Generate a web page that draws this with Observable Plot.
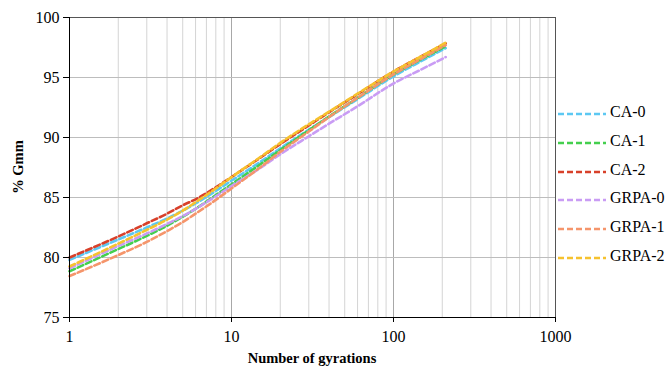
<!DOCTYPE html>
<html>
<head>
<meta charset="utf-8">
<script src="https://cdn.jsdelivr.net/npm/d3@7"></script>
<script src="https://cdn.jsdelivr.net/npm/@observablehq/plot@0.6"></script>
<style>
  body { margin: 0; background: #fff; }
  #wrap { position: relative; width: 671px; height: 371px; font-family: "Liberation Serif", "Times New Roman", "DejaVu Serif", serif; color: #000; }
  .ttl { position: absolute; font-weight: bold; font-size: 14.5px; white-space: nowrap; font-family: "Liberation Serif", "Times New Roman", "DejaVu Serif", serif; }
  #legend { position: absolute; left: 556px; top: 103px; }
  .li { position: absolute; left: 0; height: 20px; width: 115px; font-size: 16px; font-family: "Liberation Serif", "Times New Roman", "DejaVu Serif", serif; }
  .li svg { position: absolute; left: 0; top: 5px; }
  .li span { position: absolute; left: 54px; top: 0; }
</style>
</head>
<body>
<div id="wrap"></div>
<script>
// Gyration counts at which values were read
const gyrations = [1, 2, 3, 4, 5, 6, 8, 10, 15, 20, 30, 40, 60, 100, 150, 210];
// %Gmm per series
const ca0   = [79.8, 81.5, 82.5, 83.25, 83.9, 84.5, 85.55, 86.4, 87.95, 89.1, 90.65, 91.7, 93.2, 95.1, 96.4, 97.45];
const ca1   = [78.85, 80.7, 81.8, 82.65, 83.4, 84.05, 85.2, 86.1, 87.75, 88.95, 90.6, 91.75, 93.3, 95.25, 96.55, 97.6];
const ca2   = [80.0, 81.75, 82.85, 83.65, 84.35, 84.85, 85.85, 86.7, 88.3, 89.45, 91.0, 92.1, 93.6, 95.5, 96.8, 97.85];
const grpa0 = [79.1, 80.95, 82.0, 82.8, 83.45, 84.05, 85.1, 85.95, 87.45, 88.6, 90.1, 91.15, 92.6, 94.5, 95.7, 96.7];
const grpa1 = [78.45, 80.2, 81.3, 82.2, 82.95, 83.65, 84.8, 85.75, 87.5, 88.8, 90.5, 91.7, 93.3, 95.25, 96.6, 97.7];
const grpa2 = [79.25, 81.15, 82.3, 83.15, 83.9, 84.6, 85.75, 86.7, 88.35, 89.55, 91.1, 92.15, 93.65, 95.5, 96.8, 97.9];

const seriesNames = ["CA-0", "CA-1", "CA-2", "GRPA-0", "GRPA-1", "GRPA-2"];
const seriesValues = [ca0, ca1, ca2, grpa0, grpa1, grpa2];
const seriesColors = ["#5cc8f2", "#44cf4e", "#d8402a", "#c99cf4", "#f5956b", "#f6c22f"];

const xTicks = [1, 10, 100, 1000];
const xMinor = [2,3,4,5,6,7,8,9,20,30,40,50,60,70,80,90,200,300,400,500,600,700,800,900];
const xMajorGrid = [10, 100];
const yTicks = [75, 80, 85, 90, 95, 100];
const yGrid = [80, 85, 90, 95];

const data = [];
seriesNames.forEach((name, i) => {
  gyrations.forEach((n, j) => data.push({series: name, n, v: seriesValues[i][j]}));
});

const FONT = '"Liberation Serif", "Times New Roman", "DejaVu Serif", serif';

const chart = Plot.plot({
  width: 671,
  height: 371,
  marginLeft: 69,
  marginRight: 116,
  marginTop: 17,
  marginBottom: 54,
  style: {fontFamily: FONT, fontSize: "16px", color: "#000", background: "#fff"},
  x: {type: "log", domain: [1, 1000]},
  y: {domain: [75, 100]},
  color: {domain: seriesNames, range: seriesColors},
  marks: [
    Plot.ruleX(xMinor, {stroke: "#d4d4d4", strokeWidth: 1}),
    Plot.ruleX(xMajorGrid, {stroke: "#a8a8a8", strokeWidth: 1}),
    Plot.ruleY(yGrid, {stroke: "#bdbdbd", strokeWidth: 1}),
    Plot.ruleY([100], {stroke: "#555", strokeWidth: 1}),
    Plot.ruleX([1000], {stroke: "#555", strokeWidth: 1}),
    Plot.line(data, {x: "n", y: "v", z: "series", stroke: "series", strokeWidth: 2.6, strokeDasharray: "6,3", curve: "monotone-x"}),
    Plot.ruleX([1], {stroke: "#000", strokeWidth: 1}),
    Plot.ruleY([75], {stroke: "#000", strokeWidth: 1}),
    Plot.axisY({ticks: yTicks, tickSize: 6, tickPadding: 4, label: null, tickFormat: d => String(d), fontFamily: FONT}),
    Plot.axisX({ticks: xTicks, tickSize: 5, tickPadding: 8, label: null, tickFormat: d => String(d), fontFamily: FONT})
  ]
});

const wrap = document.getElementById("wrap");
wrap.appendChild(chart);

const yl = document.createElement("div");
yl.className = "ttl";
yl.textContent = "% Gmm";
yl.style.left = "18px";
yl.style.top = "167px";
yl.style.transform = "translate(-50%, -50%) rotate(-90deg)";
wrap.appendChild(yl);

const xl = document.createElement("div");
xl.className = "ttl";
xl.textContent = "Number of gyrations";
xl.style.left = "312px";
xl.style.top = "358px";
xl.style.transform = "translate(-50%, -50%)";
wrap.appendChild(xl);

const lg = document.createElement("div");
lg.id = "legend";
seriesNames.forEach((name, i) => {
  const it = document.createElement("div");
  it.className = "li";
  it.style.top = (i * 28.8) + "px";
  it.innerHTML = `<svg width="50" height="12"><line x1="2" x2="50" y1="6" y2="6" stroke="${seriesColors[i]}" stroke-width="2.6" stroke-dasharray="6,3"/></svg><span>${name}</span>`;
  lg.appendChild(it);
});
wrap.appendChild(lg);
</script>
</body>
</html>
